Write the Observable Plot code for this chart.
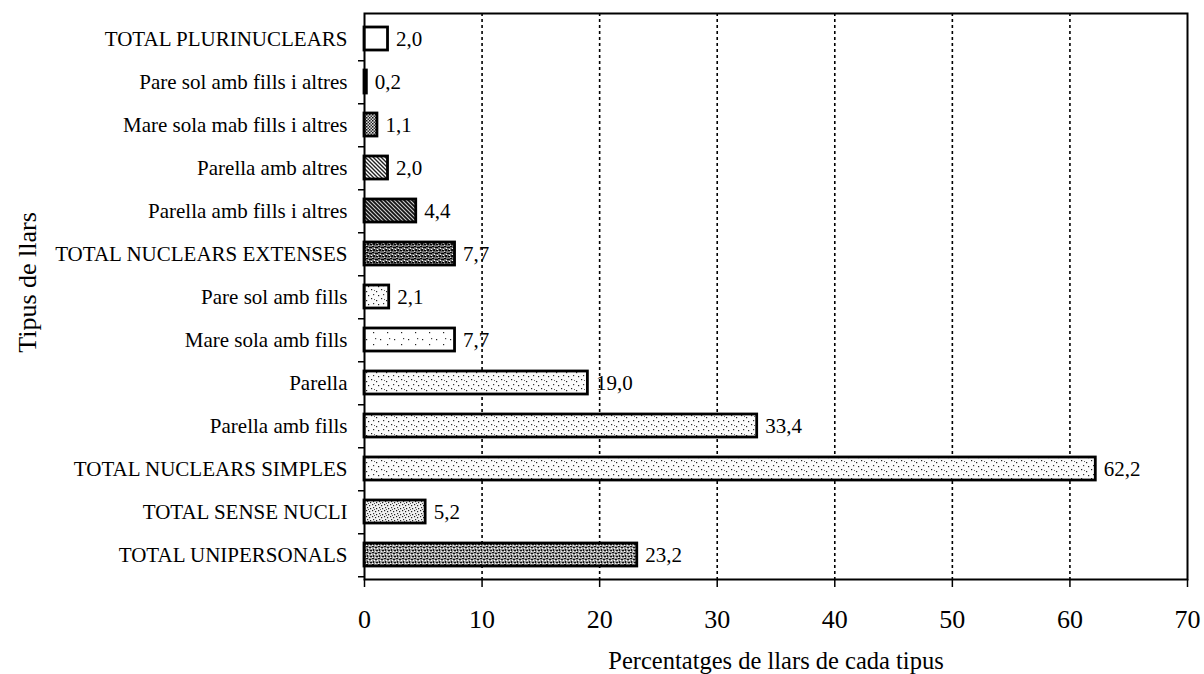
<!DOCTYPE html>
<html>
<head>
<meta charset="utf-8">
<script src="https://cdn.jsdelivr.net/npm/d3@7"></script>
<script src="https://cdn.jsdelivr.net/npm/@observablehq/plot@0.6"></script>
<style>
  html, body { margin: 0; padding: 0; background: white; }
  #chart { width: 1204px; height: 674px; }
</style>
</head>
<body>
<div id="chart"></div>
<script>
// ---- Data ----
const categories = [
  "TOTAL PLURINUCLEARS",
  "Pare sol amb fills i altres",
  "Mare sola mab fills i altres",
  "Parella amb altres",
  "Parella amb fills i altres",
  "TOTAL NUCLEARS EXTENSES",
  "Pare sol amb fills",
  "Mare sola amb fills",
  "Parella",
  "Parella amb fills",
  "TOTAL NUCLEARS SIMPLES",
  "TOTAL SENSE NUCLI",
  "TOTAL UNIPERSONALS"
];
const values = [2.0, 0.2, 1.1, 2.0, 4.4, 7.7, 2.1, 7.7, 19.0, 33.4, 62.2, 5.2, 23.2];
const xTicks = [0, 10, 20, 30, 40, 50, 60, 70];
const gridTicks = [10, 20, 30, 40, 50, 60];
const xTitle = "Percentatges de llars de cada tipus";
const yTitle = "Tipus de llars";

// ---- Styles (fill pattern per category) ----
const barPatterns = [
  "pWhite", "pBlack", "pCheck", "pHatch", "pHatchDark", "pMottleDark",
  "pLight", "pVeryLight", "pLight", "pLight", "pLight", "pMedium", "pMottle"
];

const data = categories.map((c, i) => ({
  cat: c,
  value: values[i],
  fill: `url(#${barPatterns[i]})`
}));

const fmt = v => v.toFixed(1).replace(".", ",");

const W = 1204, H = 674;
const mL = 364, mR = 17, mT = 13, mB = 95;
const pInner = 0.47, pOuter = 0.235;
const step = (H - mT - mB) / (categories.length - pInner + 2 * pOuter);

const serif = "'Liberation Serif', 'Times New Roman', serif";

const chart = Plot.plot({
  width: W,
  height: H,
  marginLeft: mL,
  marginRight: mR,
  marginTop: mT,
  marginBottom: mB,
  style: { fontFamily: serif, fontSize: "21px", background: "white", color: "black", overflow: "visible" },
  x: { domain: [0, 70], label: null },
  y: { domain: categories, paddingInner: pInner, paddingOuter: pOuter, label: null },
  color: { type: "identity" },
  marks: [
    Plot.ruleX(gridTicks, { stroke: "black", strokeWidth: 1.6, strokeDasharray: "3,3" }),
    Plot.barX(data, { y: "cat", x: "value", fill: "fill", stroke: "black", strokeWidth: 2.8 }),
    Plot.text(data, { y: "cat", x: "value", text: d => fmt(d.value), textAnchor: "start", dx: 8, fontSize: 21, fill: "black" }),
    Plot.frame({ stroke: "black", strokeWidth: 2 }),
    Plot.axisY({ tickSize: 0, tickPadding: 17, fontSize: 21, label: null }),
    Plot.axisY({ tickSize: 6, tickFormat: () => "", dy: step / 2, label: null, strokeWidth: 1.5 }),
    Plot.axisX({ ticks: xTicks, tickSize: 8, tickPadding: 22, fontSize: 26, label: null, strokeWidth: 1.5 }),
    Plot.text([xTitle], { frameAnchor: "bottom", dy: 89, fontSize: 24.5, fill: "black" }),
    Plot.text([yTitle], { frameAnchor: "left", textAnchor: "middle", dx: -337, dy: -14, rotate: -90, fontSize: 26, fill: "black" })
  ]
});

// ---- Fill patterns ----
const defs = `
<defs>
  <pattern id="pWhite" patternUnits="userSpaceOnUse" width="4" height="4">
    <rect width="4" height="4" fill="white"/>
  </pattern>
  <pattern id="pBlack" patternUnits="userSpaceOnUse" width="4" height="4">
    <rect width="4" height="4" fill="black"/>
  </pattern>
  <pattern id="pVeryLight" patternUnits="userSpaceOnUse" width="14" height="12">
    <rect width="14" height="12" fill="white"/>
    <rect x="2" y="3" width="1.2" height="1.2" fill="#222"/>
    <rect x="9" y="8" width="1.2" height="1.2" fill="#222"/>
    <rect x="11" y="2" width="1.2" height="1.2" fill="#444"/>
  </pattern>
  <pattern id="pLight" patternUnits="userSpaceOnUse" width="10" height="9">
    <rect width="10" height="9" fill="#fbfbfb"/>
    <rect x="1" y="1" width="1.2" height="1.2" fill="#222"/>
    <rect x="6" y="3" width="1.2" height="1.2" fill="#222"/>
    <rect x="3" y="6" width="1.2" height="1.2" fill="#333"/>
    <rect x="8" y="7" width="1.2" height="1.2" fill="#222"/>
    <rect x="4" y="2" width="1" height="1" fill="#666"/>
  </pattern>
  <pattern id="pMedium" patternUnits="userSpaceOnUse" width="6" height="6">
    <rect width="6" height="6" fill="#f2f2f2"/>
    <rect x="0" y="0" width="1.2" height="1.2" fill="#222"/>
    <rect x="3" y="1" width="1.2" height="1.2" fill="#222"/>
    <rect x="1" y="3" width="1.2" height="1.2" fill="#333"/>
    <rect x="4" y="4" width="1.2" height="1.2" fill="#222"/>
    <rect x="2" y="5" width="1" height="1" fill="#555"/>
  </pattern>
  <pattern id="pMottle" patternUnits="userSpaceOnUse" width="6" height="6">
    <rect width="6" height="6" fill="#9a9a9a"/>
    <rect x="0" y="0" width="2" height="1" fill="#111"/>
    <rect x="3" y="1" width="2" height="1" fill="#111"/>
    <rect x="1" y="3" width="1" height="2" fill="#111"/>
    <rect x="4" y="4" width="2" height="1" fill="#111"/>
    <rect x="2" y="2" width="1" height="1" fill="white"/>
    <rect x="5" y="2" width="1" height="1" fill="white"/>
    <rect x="0" y="5" width="1" height="1" fill="white"/>
    <rect x="3" y="5" width="1" height="1" fill="#eee"/>
  </pattern>
  <pattern id="pMottleDark" patternUnits="userSpaceOnUse" width="6" height="6">
    <rect width="6" height="6" fill="#707070"/>
    <rect x="0" y="0" width="2" height="1" fill="#000"/>
    <rect x="3" y="1" width="3" height="1" fill="#000"/>
    <rect x="1" y="3" width="2" height="2" fill="#111"/>
    <rect x="4" y="4" width="2" height="1" fill="#000"/>
    <rect x="2" y="2" width="1" height="1" fill="white"/>
    <rect x="5" y="3" width="1" height="1" fill="white"/>
    <rect x="0" y="5" width="1" height="1" fill="#ddd"/>
  </pattern>
  <pattern id="pHatch" patternUnits="userSpaceOnUse" width="4" height="4">
    <rect width="4" height="4" fill="white"/>
    <path d="M-1,-1 L5,5 M3,-1 L5,1 M-1,3 L1,5" stroke="#222" stroke-width="1.4"/>
  </pattern>
  <pattern id="pHatchDark" patternUnits="userSpaceOnUse" width="4" height="4">
    <rect width="4" height="4" fill="#ccc"/>
    <path d="M-1,-1 L5,5 M3,-1 L5,1 M-1,3 L1,5" stroke="#111" stroke-width="1.7"/>
  </pattern>
  <pattern id="pCheck" patternUnits="userSpaceOnUse" width="3" height="3">
    <rect width="3" height="3" fill="#ddd"/>
    <rect x="0" y="0" width="1.5" height="1.5" fill="#111"/>
    <rect x="1.5" y="1.5" width="1.5" height="1.5" fill="#333"/>
  </pattern>
</defs>`;
chart.insertAdjacentHTML("afterbegin", defs);

document.getElementById("chart").appendChild(chart);
</script>
</body>
</html>
